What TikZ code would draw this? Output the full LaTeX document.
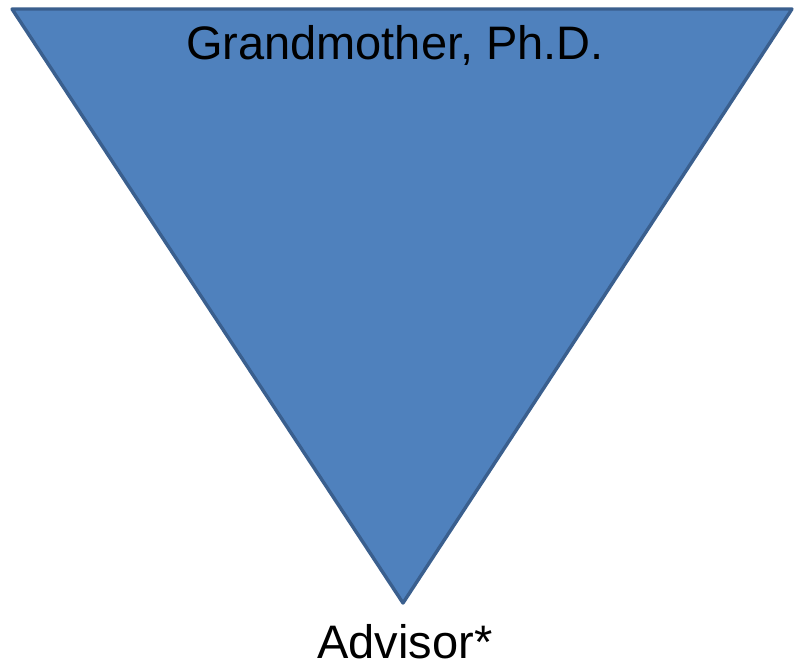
\documentclass[tikz,border=0pt]{standalone}
\usepackage{fontspec}
\setmainfont{Liberation Sans}
\definecolor{triFill}{HTML}{4F81BD}
\definecolor{triLine}{HTML}{3A5F8E}
\tikzset{
  tri/.style={fill=triFill, draw=triLine, line width=3.4pt, line join=round},
  lbl/.style={anchor=base, inner sep=0pt, font=\fontsize{47pt}{56pt}\selectfont, text=black}
}
\begin{document}
\begin{tikzpicture}[x=1pt,y=-1pt]
\useasboundingbox (0,0) rectangle (796,665);
\coordinate (tl) at (12,9);
\coordinate (tr) at (792,9);
\coordinate (bt) at (403,603);
\draw[tri] (tl) -- (tr) -- (bt) -- cycle;
\node[lbl] (top) at (395,59) {Grandmother, Ph.D.};
\node[lbl, text depth=0pt] (bottom) at (405,658) {Advisor*};
\end{tikzpicture}
\end{document}
